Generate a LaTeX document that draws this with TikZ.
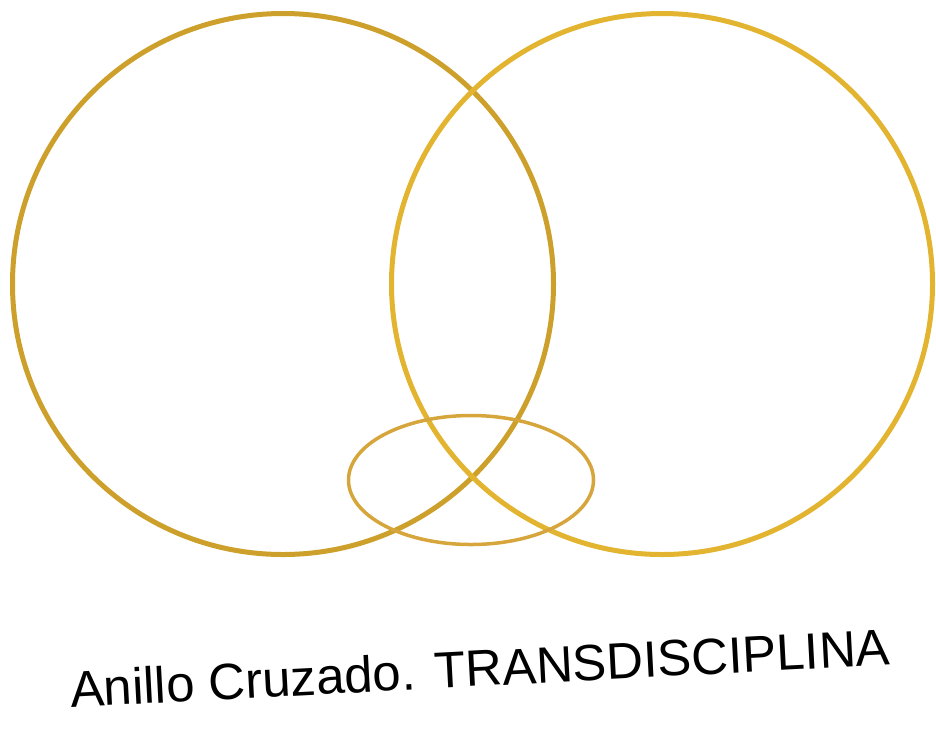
\documentclass[tikz,border=0pt]{standalone}
\usepackage{fontspec}
\setmainfont{Liberation Sans}
\usetikzlibrary{shapes.geometric}

\definecolor{golddark}{RGB}{204,160,42}
\definecolor{goldlight}{RGB}{226,180,48}
\definecolor{goldring}{RGB}{214,166,60}

\begin{document}
\begin{tikzpicture}[
    x=1pt, y=-1pt,
    ring/.style={draw=#1, line width=5pt, circle, minimum size=541pt, inner sep=0pt},
    band/.style={draw=goldring, line width=3.5pt, ellipse, minimum width=245pt,
                 minimum height=129pt, inner sep=0pt},
    caption/.style={font=\fontsize{51}{51}\selectfont, rotate=3, inner sep=0pt}
  ]
  \useasboundingbox (0,0) rectangle (936,732);

  \node[ring=golddark] (left) at (283, 284) {};
  \node[ring=goldlight] (right) at (662, 284) {};
  \node[band] (cross) at (471, 480) {};

  \node[caption] (title) at (480, 668) {Anillo Cruzado. TRANSDISCIPLINA};

\end{tikzpicture}
\end{document}
